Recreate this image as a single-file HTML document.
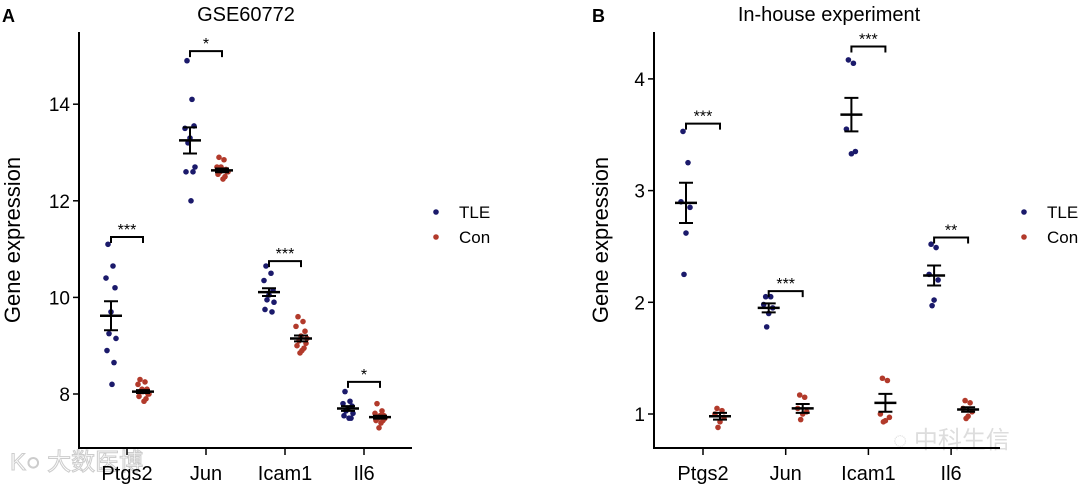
<!DOCTYPE html>
<html><head><meta charset="utf-8"><style>
html,body{margin:0;padding:0;background:#fff;width:1080px;height:488px;overflow:hidden}
svg{display:block;font-family:"Liberation Sans",Arial,sans-serif}
</style></head><body>
<svg id="chart" width="1080" height="488" viewBox="0 0 1080 488" xmlns="http://www.w3.org/2000/svg">
<text x="2" y="22" font-size="18" font-weight="bold">A</text>
<text x="246" y="21" font-size="20" text-anchor="middle">GSE60772</text>
<text x="592" y="22" font-size="18" font-weight="bold">B</text>
<text x="829" y="21" font-size="20" text-anchor="middle">In-house experiment</text>
<text transform="translate(20,240) rotate(-90)" font-size="22" text-anchor="middle">Gene expression</text>
<text transform="translate(608,240) rotate(-90)" font-size="22" text-anchor="middle">Gene expression</text>
<text x="10" y="470" font-size="24" fill="#fff" stroke="#ccc" stroke-width="1" font-family="'Liberation Sans','Noto Sans CJK SC',sans-serif">K○ 大数医博</text>
<text x="893" y="448" font-size="24" fill="#ddd" font-family="'Liberation Sans','Noto Sans CJK SC',sans-serif">◌ 中科生信</text>
</svg>
<script>
const categories = ["Ptgs2","Jun","Icam1","Il6"];
const groups = ["TLE","Con"];
const aTicks = [8,10,12,14];
const aTLE = [
 [11.1,10.65,10.4,10.2,9.7,9.25,9.15,8.9,8.65,8.2],
 [14.9,14.1,13.5,13.55,13.3,13.2,12.7,12.6,12.6,12.0],
 [10.65,10.5,10.35,10.15,10.05,9.95,9.9,9.75,9.7],
 [8.05,7.85,7.8,7.75,7.7,7.65,7.6,7.55,7.5,7.5]];
const aCon = [
 [8.3,8.25,8.2,8.1,8.05,8.05,8.0,7.95,7.9,7.85,8.1,8.0],
 [12.9,12.85,12.7,12.65,12.65,12.6,12.6,12.55,12.5,12.45,12.7,12.6],
 [9.6,9.5,9.4,9.3,9.2,9.1,9.05,9.0,8.95,8.9,8.85,9.15],
 [7.8,7.65,7.6,7.55,7.55,7.5,7.5,7.45,7.45,7.4,7.3]];
const aMean = [[9.62,8.05],[13.25,12.63],[10.11,9.15],[7.7,7.52]];
const aSE = [[0.3,0.03],[0.27,0.04],[0.08,0.06],[0.05,0.03]];
const aSig = ["***","*","***","*"];
const aBracket = [11.25,15.1,10.75,8.25];
const bTicks = [1,2,3,4];
const bTLE = [
 [3.53,3.25,2.9,2.85,2.62,2.25],
 [2.05,2.05,1.98,1.95,1.9,1.78],
 [4.17,4.14,3.55,3.35,3.33],
 [2.52,2.49,2.25,2.2,2.02,1.97]];
const bCon = [
 [1.05,1.03,1.0,0.97,0.93,0.88],
 [1.17,1.15,1.05,1.02,1.0,0.95],
 [1.32,1.3,1.0,0.97,0.94,0.93],
 [1.12,1.1,1.05,1.02,0.98,0.96]];
const bMean = [[2.89,0.98],[1.95,1.05],[3.68,1.1],[2.24,1.04]];
const bSE = [[0.18,0.03],[0.04,0.04],[0.15,0.08],[0.09,0.02]];
const bSig = ["***","***","***","**"];
const bBracket = [3.6,2.1,4.29,2.58];

const svg = document.getElementById('chart');
const NS = "http://www.w3.org/2000/svg";
function mk(tag, attrs){const e=document.createElementNS(NS,tag);for(const k in attrs)e.setAttribute(k,attrs[k]);svg.appendChild(e);return e;}
const colors = ["#1b1a6b","#b23a2b"];
const jit = [-3,2,-5,4,0,-2,5,-4,3,1,-1,6];

function panel(p, id){
  const y = v => p.y0 - (v - p.v0) * p.ppu;
  const x = i => p.xc0 + i * p.xstep;
  let e = mk('line',{x1:p.ax,y1:p.top,x2:p.ax,y2:p.bottom,stroke:'#000','stroke-width':2});
   
  e = mk('line',{x1:p.ax-1,y1:p.bottom,x2:p.right,y2:p.bottom,stroke:'#000','stroke-width':2});
   
  p.ticks.forEach(t=>{
    let l=mk('line',{x1:p.ax-6,y1:y(t),x2:p.ax,y2:y(t),stroke:'#000','stroke-width':1.5});
     
    let tx=mk('text',{x:p.ax-9,y:y(t)+7,'font-size':19,'text-anchor':'end'}); tx.textContent=t;
     
  });
  categories.forEach((c,i)=>{
    let l=mk('line',{x1:x(i),y1:p.bottom,x2:x(i),y2:p.bottom+7,stroke:'#000','stroke-width':1.5});
     
    let tx=mk('text',{x:x(i),y:p.bottom+32,'font-size':20,'text-anchor':'middle'}); tx.textContent=c;
     
    [p.tle[i], p.con[i]].forEach((vals,g)=>{
      const cx = x(i) + (g===0?-p.off:p.off);
      vals.forEach((v,k)=>{
        let d=mk('circle',{cx:cx+jit[k%jit.length],cy:y(v),r:2.8,fill:colors[g]});
         
      });
      const m=p.mean[i][g], s=p.se[i][g];
      let ln=mk('line',{x1:cx-11,y1:y(m),x2:cx+11,y2:y(m),stroke:'#000','stroke-width':2.5});
       
      let pth=mk('path',{d:`M${cx-7},${y(m+s)}H${cx+7}M${cx},${y(m+s)}V${y(m-s)}M${cx-7},${y(m-s)}H${cx+7}`,stroke:'#000','stroke-width':2,fill:'none'});
       
    });
    const by=y(p.br[i]), x1=x(i)-p.off, x2=x(i)+p.off;
    let b=mk('path',{d:`M${x1},${by+6}V${by}H${x2}V${by+6}`,stroke:'#000','stroke-width':2,fill:'none'});
     
    let st=mk('text',{x:(x1+x2)/2,y:by-2,'font-size':16,'text-anchor':'middle'}); st.textContent=p.sig[i];
     
  });
  groups.forEach((g,k)=>{
    let d=mk('circle',{cx:p.lx,cy:212+k*25,r:2.8,fill:colors[k]});
     
    let t=mk('text',{x:p.lx+23,y:218+k*25,'font-size':17}); t.textContent=g;
     
  });
}
panel({ax:79,top:32,bottom:448,right:412,y0:394,v0:8,ppu:48.3,xc0:127,xstep:79,off:16,ticks:aTicks,
  tle:aTLE,con:aCon,mean:aMean,se:aSE,sig:aSig,br:aBracket,lx:436},'panel-a');
panel({ax:654,top:32,bottom:448,right:1000,y0:414,v0:1,ppu:111.7,xc0:703,xstep:82.7,off:17,ticks:bTicks,
  tle:bTLE,con:bCon,mean:bMean,se:bSE,sig:bSig,br:bBracket,lx:1024},'panel-b');
</script>
</body></html>
